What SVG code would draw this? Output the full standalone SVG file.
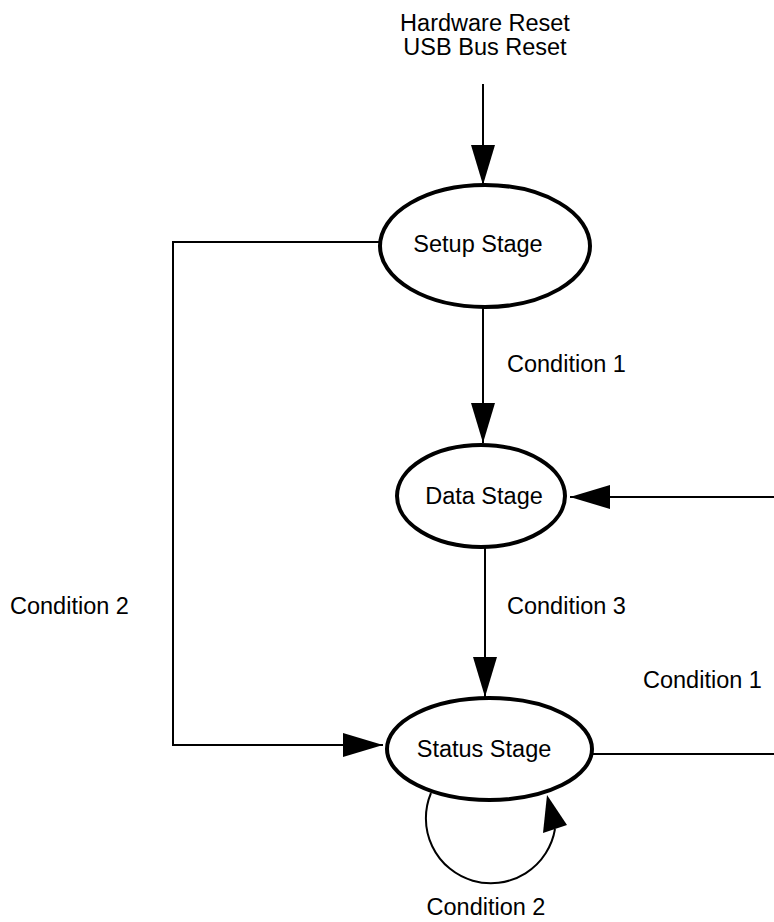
<svg xmlns="http://www.w3.org/2000/svg" width="774" height="922" viewBox="0 0 774 922">
<style>
text{font-family:"Liberation Sans",Arial,sans-serif;font-size:23.5px;fill:#000}
.node{fill:#fff;stroke:#000;stroke-width:4}
.edge{fill:none;stroke:#000;stroke-width:2}
.mid{text-anchor:middle}
</style>
<defs>
<marker id="arr" markerUnits="userSpaceOnUse" markerWidth="40" markerHeight="24" refX="40" refY="12" orient="auto">
<path d="M0,0 L40,12 L0,24 Z" fill="#000"/>
</marker>
</defs>
<g id="connectors">
<line class="edge" x1="483" y1="84" x2="483" y2="185" marker-end="url(#arr)"/>
<line class="edge" x1="483" y1="307" x2="483" y2="443" marker-end="url(#arr)"/>
<line class="edge" x1="485" y1="547" x2="485" y2="697" marker-end="url(#arr)"/>
<polyline class="edge" points="380,242 173,242 173,745 383,745" marker-end="url(#arr)"/>
<line class="edge" x1="774" y1="497" x2="570" y2="497" marker-end="url(#arr)"/>
<line class="edge" x1="593" y1="754" x2="774" y2="754"/>
<path class="edge" d="M431,793 A65,65 0 1 0 555,829"/>
<polygon points="547,795 567,825 543,833" fill="#000"/>
</g>
<g id="setup">
<ellipse class="node" cx="485" cy="246" rx="105" ry="61"/>
<text class="mid" x="478" y="252">Setup Stage</text>
</g>
<g id="data">
<ellipse class="node" cx="481" cy="496" rx="84" ry="51"/>
<text class="mid" x="484" y="504">Data Stage</text>
</g>
<g id="status">
<ellipse class="node" cx="489.5" cy="749" rx="102.5" ry="51"/>
<text class="mid" x="484" y="757">Status Stage</text>
</g>
<g id="labels">
<text class="mid" x="485" y="31">Hardware Reset</text>
<text class="mid" x="485" y="55">USB Bus Reset</text>
<text x="507" y="372">Condition 1</text>
<text x="10" y="614">Condition 2</text>
<text x="507" y="614">Condition 3</text>
<text x="643" y="688">Condition 1</text>
<text class="mid" x="486" y="915">Condition 2</text>
</g>
</svg>
